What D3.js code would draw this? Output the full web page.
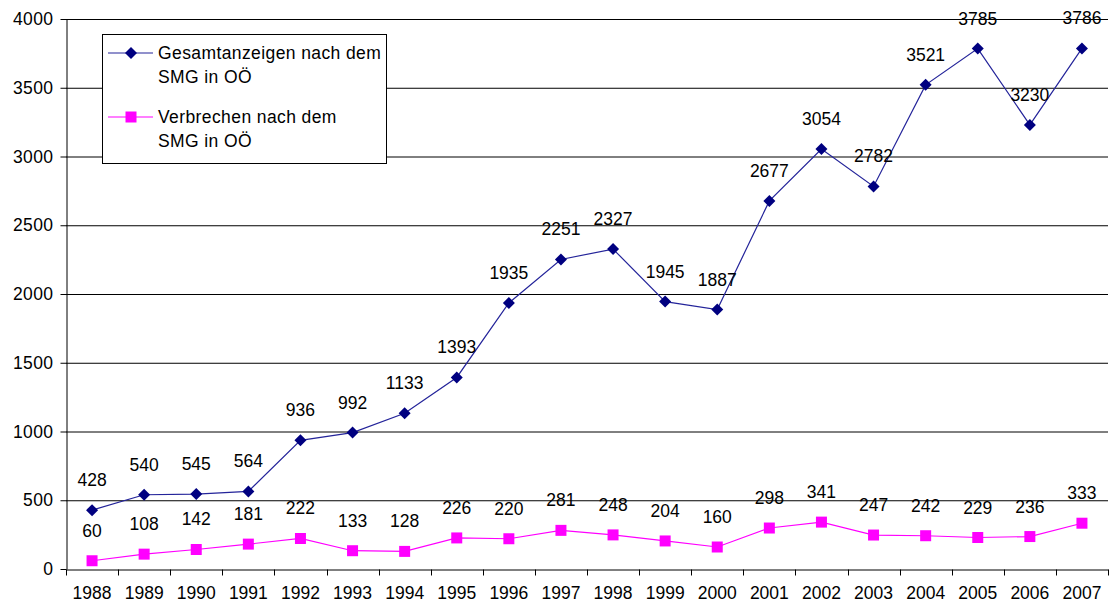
<!DOCTYPE html>
<html><head><meta charset="utf-8">
<script src="https://cdn.jsdelivr.net/npm/d3@7"></script>
<style>body{margin:0;background:#fff}svg{display:block}text{font-family:"Liberation Sans",Arial,sans-serif}</style>
</head><body><svg id="c" width="1112" height="610"></svg>
<script>
const years = ["1988","1989","1990","1991","1992","1993","1994","1995","1996","1997","1998","1999","2000","2001","2002","2003","2004","2005","2006","2007"];
const gesamt = [428,540,545,564,936,992,1133,1393,1935,2251,2327,1945,1887,2677,3054,2782,3521,3785,3230,3786];
const verbrechen = [60,108,142,181,222,133,128,226,220,281,248,204,160,298,341,247,242,229,236,333];
const yTicks = [0,500,1000,1500,2000,2500,3000,3500,4000];
const seriesNames = [["Gesamtanzeigen nach dem","SMG in OÖ"],["Verbrechen nach dem","SMG in OÖ"]];

const FS = 17.5;
const svg = d3.select("#c");
const L=66, R=1108, T=19, B=569;
const x = d3.scaleBand().domain(years).range([L,R]);
const y = d3.scaleLinear().domain([0,4000]).range([B,T]);

svg.append("g").selectAll("line").data(yTicks.filter(d=>d>0)).join("line")
  .attr("x1",L).attr("x2",R).attr("y1",d=>y(d)+0.5).attr("y2",d=>y(d)+0.5)
  .attr("stroke","#000").attr("stroke-width",1);

const ya = svg.append("g").attr("transform",`translate(${L+0.5},0)`)
  .call(d3.axisLeft(y).tickValues(yTicks).tickSize(6).tickSizeOuter(0).tickFormat(d3.format("d")));
ya.select(".domain").attr("stroke","#000");
ya.selectAll("text").attr("font-size",FS).attr("fill","#000").attr("dx",-4).attr("letter-spacing",0.4);
const xa = svg.append("g").attr("transform",`translate(0,${B+0.5})`)
  .call(d3.axisBottom(x).tickSize(0).tickSizeOuter(0));
xa.select(".domain").attr("stroke","#000");
xa.selectAll("text").attr("font-size",FS).attr("fill","#000").attr("dy","1.5em");
const bounds = years.map(d=>x(d)).concat([R]);
xa.append("g").selectAll("line").data(bounds).join("line")
  .attr("x1",d=>Math.round(d)+0.5).attr("x2",d=>Math.round(d)+0.5).attr("y1",0).attr("y2",6).attr("stroke","#000");

const cx = d=>x(d)+x.bandwidth()/2;
const line = d3.line().x((v,i)=>cx(years[i])).y(v=>y(v));
const diamond = "M0,-6L6,0L0,6L-6,0Z";
const square = "M-5.5,-5.5H5.5V5.5H-5.5Z";

function drawSeries(vals,lineColor,color,shape){
  svg.append("path").datum(vals).attr("d",line).attr("fill","none").attr("stroke",lineColor).attr("stroke-width",1.2);
  svg.append("g").selectAll("path").data(vals).join("path")
    .attr("d",shape).attr("transform",(v,i)=>`translate(${cx(years[i])},${y(v)})`)
    .attr("fill",color);
  svg.append("g").selectAll("text").data(vals).join("text")
    .attr("x",(v,i)=>cx(years[i])).attr("y",v=>y(v)-24)
    .attr("text-anchor","middle").attr("font-size",FS).attr("fill","#000").text(v=>v);
}
drawSeries(gesamt,"#24249a","#000080",diamond);
drawSeries(verbrechen,"#ff00ff","#ff00ff",square);

const lg = svg.append("g");
lg.append("rect").attr("x",102.5).attr("y",34.5).attr("width",284).attr("height",129).attr("fill","#fff").attr("stroke","#000");
const cols=["#000080","#ff00ff"], lcols=["#24249a","#ff00ff"], shapes=[diamond,square];
[53,117].forEach((yy,k)=>{
  lg.append("line").attr("x1",108).attr("x2",153).attr("y1",yy).attr("y2",yy).attr("stroke",lcols[k]).attr("stroke-width",1.2);
  lg.append("path").attr("d",shapes[k]).attr("transform",`translate(131,${yy})`).attr("fill",cols[k]);
  seriesNames[k].forEach((t,j)=>lg.append("text").attr("x",158).attr("y",yy+6+j*24).attr("font-size",FS).attr("letter-spacing",0.4).attr("fill","#000").text(t));
});
</script></body></html>
